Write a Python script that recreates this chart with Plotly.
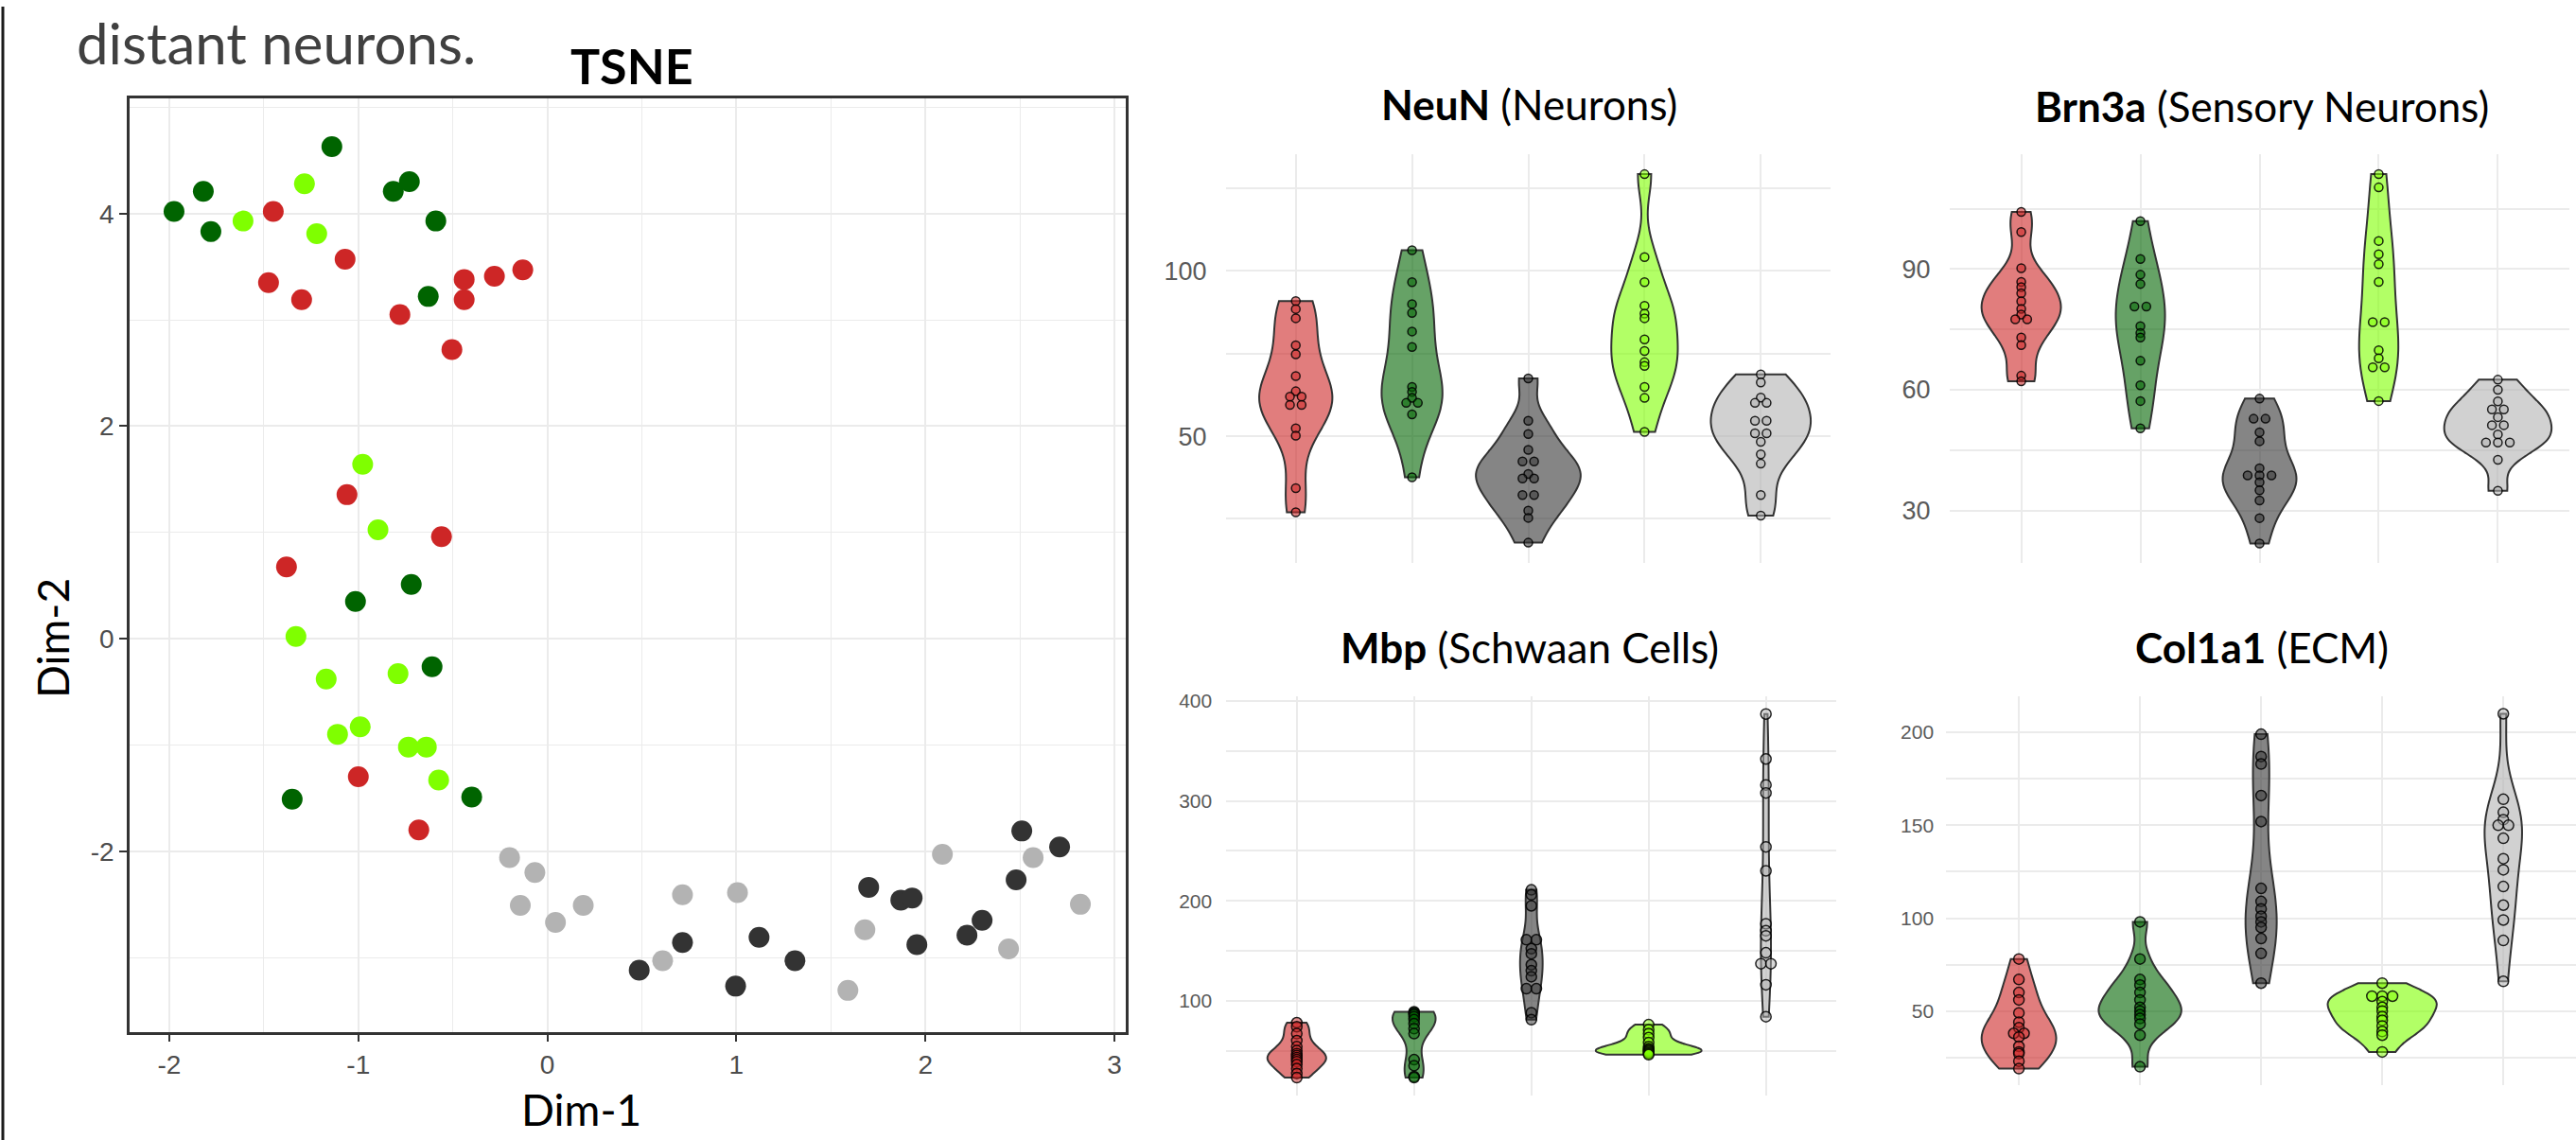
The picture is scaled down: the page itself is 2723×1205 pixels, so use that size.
import numpy as np
import plotly.graph_objects as go

W, H = 2723, 1205

# ---------------- data ----------------
group_colors = ["#CD2626", "#006400", "#333333", "#7FFF00", "#B3B3B3"]
category_pos = [1, 2, 3, 4, 5]

# TSNE coordinates per group
tsne_red_x = [-1.45, -1.07, -1.475, -1.30, -0.78, -0.44, -0.44, -0.28, -0.13, -0.505, -1.06, -0.56, -1.38, -1.00, -0.68]
tsne_red_y = [4.02, 3.57, 3.35, 3.19, 3.05, 3.38, 3.19, 3.41, 3.47, 2.72, 1.355, 0.96, 0.675, -1.30, -1.80]
tsne_dgreen_x = [-1.975, -1.82, -1.78, -1.14, -0.815, -0.73, -0.59, -0.63, -0.72, -1.015, -0.61, -1.35, -0.40]
tsne_dgreen_y = [4.02, 4.21, 3.83, 4.63, 4.21, 4.30, 3.93, 3.22, 0.51, 0.35, -0.265, -1.51, -1.49]
tsne_lgreen_x = [-1.61, -1.285, -1.22, -0.977, -0.896, -1.33, -1.17, -0.79, -1.11, -0.99, -0.735, -0.64, -0.575]
tsne_lgreen_y = [3.93, 4.28, 3.81, 1.64, 1.025, 0.02, -0.38, -0.33, -0.90, -0.83, -1.02, -1.02, -1.33]
tsne_dgrey_x = [2.51, 2.71, 2.48, 1.70, 1.87, 1.93, 2.30, 2.22, 1.955, 1.12, 0.715, 1.31, 0.486, 0.996]
tsne_dgrey_y = [-1.81, -1.96, -2.27, -2.34, -2.46, -2.44, -2.65, -2.79, -2.88, -2.81, -2.86, -3.03, -3.12, -3.27]
tsne_lgrey_x = [-0.20, -0.066, -0.143, 0.19, 0.043, 0.715, 1.006, 0.61, 1.59, 1.68, 2.09, 2.57, 2.82, 2.44]
tsne_lgrey_y = [-2.06, -2.20, -2.51, -2.51, -2.67, -2.41, -2.39, -3.03, -3.31, -2.74, -2.03, -2.06, -2.50, -2.92]

tsne_x_ticks = [-2, -1, 0, 1, 2, 3]
tsne_y_ticks = [-2, 0, 2, 4]

# violin panels: values per group (red, dark green, dark grey, light green, light grey)
neun_red = [90.9, 88.5, 85.7, 77.5, 74.8, 68.2, 63.6, 62.0, 62.0, 59.5, 59.5, 52.4, 50.2, 34.3, 27.0]
neun_dgreen = [106.3, 96.6, 90.0, 87.3, 81.7, 77.0, 64.9, 63.4, 61.6, 60.1, 60.1, 56.6, 37.6]
neun_dgrey = [67.5, 54.7, 50.7, 45.9, 42.4, 42.4, 38.6, 37.2, 37.2, 32.2, 32.2, 27.5, 25.3, 17.8]
neun_lgreen = [129.3, 104.2, 96.6, 89.5, 87.1, 85.7, 79.3, 75.8, 72.4, 71.3, 64.9, 61.6, 51.3]
neun_lgrey = [68.7, 66.3, 61.7, 60.1, 60.1, 54.7, 54.7, 50.9, 50.9, 48.3, 44.5, 41.7, 32.2, 26.0]
neun_ticks = [25, 50, 75, 100, 125]
neun_ticklabels = ["", "50", "", "100", ""]

brn3a_red = [104.2, 99.2, 90.2, 86.8, 85.5, 84.0, 82.0, 80.1, 78.7, 77.5, 77.5, 73.0, 71.1, 63.5, 62.1]
brn3a_dgreen = [101.9, 92.5, 88.6, 86.3, 80.7, 80.7, 75.8, 74.1, 73.0, 67.2, 61.1, 57.2, 50.4]
brn3a_dgrey = [57.8, 52.8, 52.8, 49.4, 47.2, 40.5, 38.7, 38.7, 38.7, 37.0, 35.0, 32.5, 28.1, 21.8]
brn3a_lgreen = [113.6, 110.3, 97.0, 93.7, 91.2, 86.8, 76.8, 76.8, 69.8, 67.8, 65.6, 65.6, 57.2]
brn3a_lgrey = [62.5, 60.0, 57.1, 55.1, 55.1, 53.2, 51.2, 51.2, 48.9, 46.9, 46.9, 46.9, 42.6, 34.9]
brn3a_ticks = [30, 45, 60, 75, 90, 105]
brn3a_ticklabels = ["30", "", "60", "", "90", ""]

mbp_red = [78, 74, 67, 60, 54, 50, 47, 45, 43, 41, 39, 36, 32, 27, 23]
mbp_dgreen = [89, 88, 87, 86, 84, 81, 77, 72, 67, 41, 35, 24, 23]
mbp_dgrey = [211, 206, 195, 161, 161, 152, 147, 136, 130, 124, 112, 112, 88, 81]
mbp_lgreen = [76, 71, 67, 63, 58, 54, 52, 51, 50, 49, 48, 47, 46]
mbp_lgrey = [387, 342, 316, 308, 254, 230, 177, 170, 165, 148, 137, 137, 116, 84]
mbp_ticks = [50, 100, 150, 200, 250, 300, 350, 400]
mbp_ticklabels = ["", "100", "", "200", "", "300", "", "400"]

col1a1_red = [78, 67, 60, 56, 49, 44, 41, 38, 38, 36, 31, 28, 27, 23, 19]
col1a1_dgreen = [98, 78, 67, 64, 60, 56, 52, 50, 48, 46, 43, 37, 20]
col1a1_dgrey = [199, 187, 183, 166, 152, 116, 109, 105, 101, 98, 95, 89, 81, 65]
col1a1_lgreen = [65, 58, 58, 58, 55, 52, 50, 47, 45, 42, 39, 37, 28]
col1a1_lgrey = [210, 164, 157, 153, 150, 150, 143, 132, 126, 117, 107, 99, 88, 66]
col1a1_ticks = [25, 50, 75, 100, 125, 150, 175, 200]
col1a1_ticklabels = ["", "50", "", "100", "", "150", "", "200"]

# ---------------- helpers ----------------
def xdom(l, r):
    return [l / W, min(r / W, 1.0)]

def ydom(t, b):
    return [1 - b / H, 1 - t / H]

def rgba(hexc, a):
    h = hexc.lstrip("#")
    r, g, b = int(h[0:2], 16), int(h[2:4], 16), int(h[4:6], 16)
    return f"rgba({r},{g},{b},{a})"

def nrd0(v):
    v = np.asarray(v, float)
    sd = v.std(ddof=1)
    q75, q25 = np.percentile(v, [75, 25])
    lo = min(sd, (q75 - q25) / 1.34)
    if lo <= 0:
        lo = sd if sd > 0 else 1.0
    return 0.9 * lo * len(v) ** -0.2

def stack_offsets(vals, spacing):
    offs = np.zeros(len(vals))
    groups = {}
    for i, v in enumerate(vals):
        groups.setdefault(round(float(v), 3), []).append(i)
    for idx in groups.values():
        n = len(idx)
        for k, i in enumerate(idx):
            offs[i] = (k - (n - 1) / 2) * spacing
    return offs

GRID = "#ebebeb"
TICKFONT = "Liberation Sans, Arial, sans-serif"
TITLEFONT = "Lato, Carlito, Calibri, sans-serif"

fig = go.Figure()

# ---------------- TSNE ----------------
tsne_sets = [
    (tsne_red_x, tsne_red_y, group_colors[0]),
    (tsne_dgreen_x, tsne_dgreen_y, group_colors[1]),
    (tsne_lgreen_x, tsne_lgreen_y, group_colors[3]),
    (tsne_dgrey_x, tsne_dgrey_y, group_colors[2]),
    (tsne_lgrey_x, tsne_lgrey_y, group_colors[4]),
]
for xs, ys, c in tsne_sets:
    fig.add_trace(go.Scatter(x=xs, y=ys, mode="markers", xaxis="x", yaxis="y",
                             marker=dict(size=22, color=c, line=dict(width=0)),
                             showlegend=False, hoverinfo="skip"))

# ---------------- violin panels ----------------
panels = [
    dict(key="neun", ax="2", data=[neun_red, neun_dgreen, neun_dgrey, neun_lgreen, neun_lgrey],
         xpx=(1296, 1935), ypx=(156.7, 591.7), yr=[11.6, 135.4],
         ticks=neun_ticks, labels=neun_ticklabels, fs=27, tl=14,
         dot=9, sp=0.1, dalpha=0.55, dline=1.5),
    dict(key="brn3a", ax="3", data=[brn3a_red, brn3a_dgreen, brn3a_dgrey, brn3a_lgreen, brn3a_lgrey],
         xpx=(2061, 2716), ypx=(156.7, 591.7), yr=[16.9, 118.6],
         ticks=brn3a_ticks, labels=brn3a_ticklabels, fs=27, tl=14,
         dot=9, sp=0.1, dalpha=0.55, dline=1.5),
    dict(key="mbp", ax="4", data=[mbp_red, mbp_dgreen, mbp_dgrey, mbp_lgreen, mbp_lgrey],
         xpx=(1296.4, 1941.1), ypx=(733.3, 1157.7), yr=[5.1, 404.7],
         ticks=mbp_ticks, labels=mbp_ticklabels, fs=21, tl=10,
         dot=11, sp=0.085, dalpha=0.5, dline=1.5),
    dict(key="col1a1", ax="5", data=[col1a1_red, col1a1_dgreen, col1a1_dgrey, col1a1_lgreen, col1a1_lgrey],
         xpx=(2057.3, 2723), ypx=(733.3, 1146.7), yr=[10.1, 219.4],
         ticks=col1a1_ticks, labels=col1a1_ticklabels, fs=21, tl=8,
         dot=11, sp=0.085, dalpha=0.5, dline=1.5),
]

for p in panels:
    xa, ya = "x" + p["ax"], "y" + p["ax"]
    for pos, vals, c in zip(category_pos, p["data"], group_colors):
        fig.add_trace(go.Violin(
            x=[pos] * len(vals), y=vals, orientation="v", xaxis=xa, yaxis=ya,
            fillcolor=rgba(c, 0.6), line=dict(color="#333333", width=2),
            points=False, spanmode="hard", bandwidth=nrd0(vals),
            scalegroup=p["key"], scalemode="width",
            box=dict(visible=False), meanline=dict(visible=False),
            showlegend=False, hoverinfo="skip"))
    for pos, vals, c in zip(category_pos, p["data"], group_colors):
        offs = stack_offsets(vals, p["sp"])
        fig.add_trace(go.Scatter(
            x=list(pos + offs), y=vals, mode="markers", xaxis=xa, yaxis=ya,
            marker=dict(size=p["dot"], color=rgba(c, p["dalpha"]),
                        line=dict(color="rgba(0,0,0,0.85)", width=p["dline"])),
            showlegend=False, hoverinfo="skip"))

# ---------------- layout ----------------
layout = dict(
    width=W, height=H, autosize=False,
    margin=dict(l=0, r=0, t=0, b=0),
    paper_bgcolor="white", plot_bgcolor="white",
    violinmode="overlay", violingap=0.1, violingroupgap=0,
    showlegend=False,
)

layout["xaxis"] = dict(
    domain=xdom(137, 1190), anchor="y", range=[-2.21, 3.06],
    tickvals=tsne_x_ticks, ticktext=[str(t) for t in tsne_x_ticks],
    ticks="outside", ticklen=8, tickwidth=2, tickcolor="#333333",
    tickfont=dict(family=TICKFONT, size=28, color="#4d4d4d"),
    showgrid=True, gridcolor=GRID, gridwidth=2,
    minor=dict(dtick=0.5, showgrid=True, gridcolor=GRID, gridwidth=1.3),
    showline=True, mirror=True, linecolor="#333333", linewidth=2.5, zeroline=False,
)
layout["yaxis"] = dict(
    domain=ydom(98, 1090), anchor="x", range=[-3.70, 5.08],
    tickvals=tsne_y_ticks, ticktext=[str(t) for t in tsne_y_ticks],
    ticks="outside", ticklen=8, tickwidth=2, tickcolor="#333333",
    tickfont=dict(family=TICKFONT, size=28, color="#4d4d4d"),
    showgrid=True, gridcolor=GRID, gridwidth=2,
    minor=dict(dtick=1, showgrid=True, gridcolor=GRID, gridwidth=1.3),
    showline=True, mirror=True, linecolor="#333333", linewidth=2.5, zeroline=False,
)

for p in panels:
    n = p["ax"]
    layout["xaxis" + n] = dict(
        domain=xdom(*p["xpx"]), anchor="y" + n, range=[0.4, 5.6],
        tickvals=category_pos, showticklabels=False, ticks="",
        showgrid=True, gridcolor=GRID, gridwidth=2, zeroline=False, showline=False,
    )
    layout["yaxis" + n] = dict(
        domain=ydom(*p["ypx"]), anchor="x" + n, range=p["yr"],
        tickvals=p["ticks"], ticktext=p["labels"],
        ticks="outside", ticklen=p["tl"], tickcolor="rgba(0,0,0,0)",
        tickfont=dict(family=TICKFONT, size=p["fs"], color="#5a5a5a"),
        showgrid=True, gridcolor=GRID, gridwidth=2, zeroline=False, showline=False,
    )

def ann(text, xpx, ypx, size, color="black", xanchor="center", yanchor="middle", angle=0):
    return dict(text=text, x=xpx / W, y=1 - ypx / H, xref="paper", yref="paper",
                xanchor=xanchor, yanchor=yanchor, showarrow=False, textangle=angle,
                font=dict(family=TITLEFONT, size=size, color=color))

layout["annotations"] = [
    ann("distant neurons.", 79, 0, 60, color="#404040", xanchor="left", yanchor="top"),
    ann("<b>TSNE</b>", 668, 62, 52),
    ann("Dim-1", 614, 1172, 46),
    ann("Dim-2", 55, 672, 46, angle=-90),
    ann("<b>NeuN</b> (Neurons)", 1616, 104, 44),
    ann("<b>Brn3a</b> (Sensory Neurons)", 2391, 106, 44),
    ann("<b>Mbp</b> (Schwaan Cells)", 1617, 681, 44),
    ann("<b>Col1a1</b> (ECM)", 2391, 681, 44),
]

layout["shapes"] = [
    dict(type="line", xref="paper", yref="paper", x0=3 / W, x1=3 / W, y0=0, y1=1,
         line=dict(color="#1a1a1a", width=3)),
]

fig.update_layout(**layout)
fig.write_html("out.html", config={"displayModeBar": False},
               post_script="document.body.style.margin='0';document.body.style.overflow='hidden';")
